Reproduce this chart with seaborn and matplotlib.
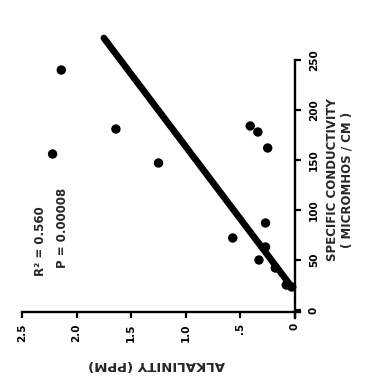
import matplotlib
matplotlib.use("Agg")
import matplotlib.pyplot as plt
import seaborn as sns
import numpy as np
import pandas as pd

# data: x on page = alkalinity, y on page = conductivity
alkalinity = [2.14, 1.64, 2.22, 1.25, 0.41, 0.34, 0.25, 0.27, 0.57, 0.27, 0.33, 0.18, 0.08, 0.03]
conductivity = [240, 181, 156, 147, 184, 178, 162, 87, 72, 63, 50, 42, 25, 23]

# regression line: alkalinity = slope * conductivity + intercept
fit_slope = 0.00691
fit_intercept = -0.129
fit_cond_range = [23, 272]

alk_ticks = [2.5, 2.0, 1.5, 1.0, 0.5, 0.0]
alk_ticklabels = ["2.5", "2.0", "1.5", "1.0", ".5", "0"]
cond_ticks = [0, 50, 100, 150, 200, 250]
cond_ticklabels = ["0", "50", "100", "150", "200", "250"]

sns.set_style("white")
plt.rcParams["font.family"] = ["DejaVu Sans"]
plt.rcParams["font.weight"] = "bold"

W, H = 371, 380
fig = plt.figure(figsize=(W / 100, H / 100), dpi=100)
ax = fig.add_axes([22 / W, 1 - 312 / H, (295 - 22) / W, (312 - 60) / H])

df = pd.DataFrame({"alk": alkalinity, "cond": conductivity})
sns.scatterplot(data=df, x="alk", y="cond", color="black", s=46,
                edgecolor="none", ax=ax, clip_on=False, zorder=3)

line_cond = np.array(fit_cond_range, dtype=float)
line_alk = fit_slope * line_cond + fit_intercept
ldf = pd.DataFrame({"alk": line_alk, "cond": line_cond})
sns.lineplot(data=ldf, x="alk", y="cond", sort=False, color="black",
             linewidth=4.8, ax=ax, clip_on=False, zorder=2)

ax.set_xlim(2.5, 0)
ax.set_ylim(-2, 250)

for s in ["left", "top"]:
    ax.spines[s].set_visible(False)
for s in ["bottom", "right"]:
    ax.spines[s].set_linewidth(1.7)
    ax.spines[s].set_color("black")
ax.spines["bottom"].set_bounds(-0.05, 2.5)
ax.spines["right"].set_bounds(-8, 250)

ax.yaxis.tick_right()
ax.set_xticks(alk_ticks)
ax.set_xticklabels(alk_ticklabels, rotation=90, fontsize=7.5, fontweight="bold")
ax.set_yticks(cond_ticks)
ax.set_yticklabels(cond_ticklabels, rotation=90, fontsize=7.5, fontweight="bold",
                   va="center")
ax.tick_params(axis="x", direction="out", length=4, width=1.6, pad=4,
               colors="black", bottom=True)
ax.tick_params(axis="y", direction="out", length=4, width=1.6, pad=6,
               colors="black", right=True, left=False)
ax.set_xlabel("")
ax.set_ylabel("")

fig.text(340 / W, 1 - 180 / H, "SPECIFIC CONDUCTIVITY\n( MICROMHOS / CM )",
         rotation=90, ha="center", va="center", multialignment="center",
         fontsize=8.5, fontweight="bold", linespacing=1.15)
fig.text(157 / W, 1 - 364 / H, "ALKALINITY (PPM)", rotation=180,
         ha="center", va="center", fontsize=9.5, fontweight="bold")
fig.text(40 / W, 1 - 276 / H, "R² = 0.560", rotation=90, ha="center",
         va="bottom", fontsize=8.5, fontweight="bold")
fig.text(63 / W, 1 - 268 / H, "P = 0.00008", rotation=90, ha="center",
         va="bottom", fontsize=8.5, fontweight="bold")

fig.savefig("out.png", dpi=100, facecolor="white")
